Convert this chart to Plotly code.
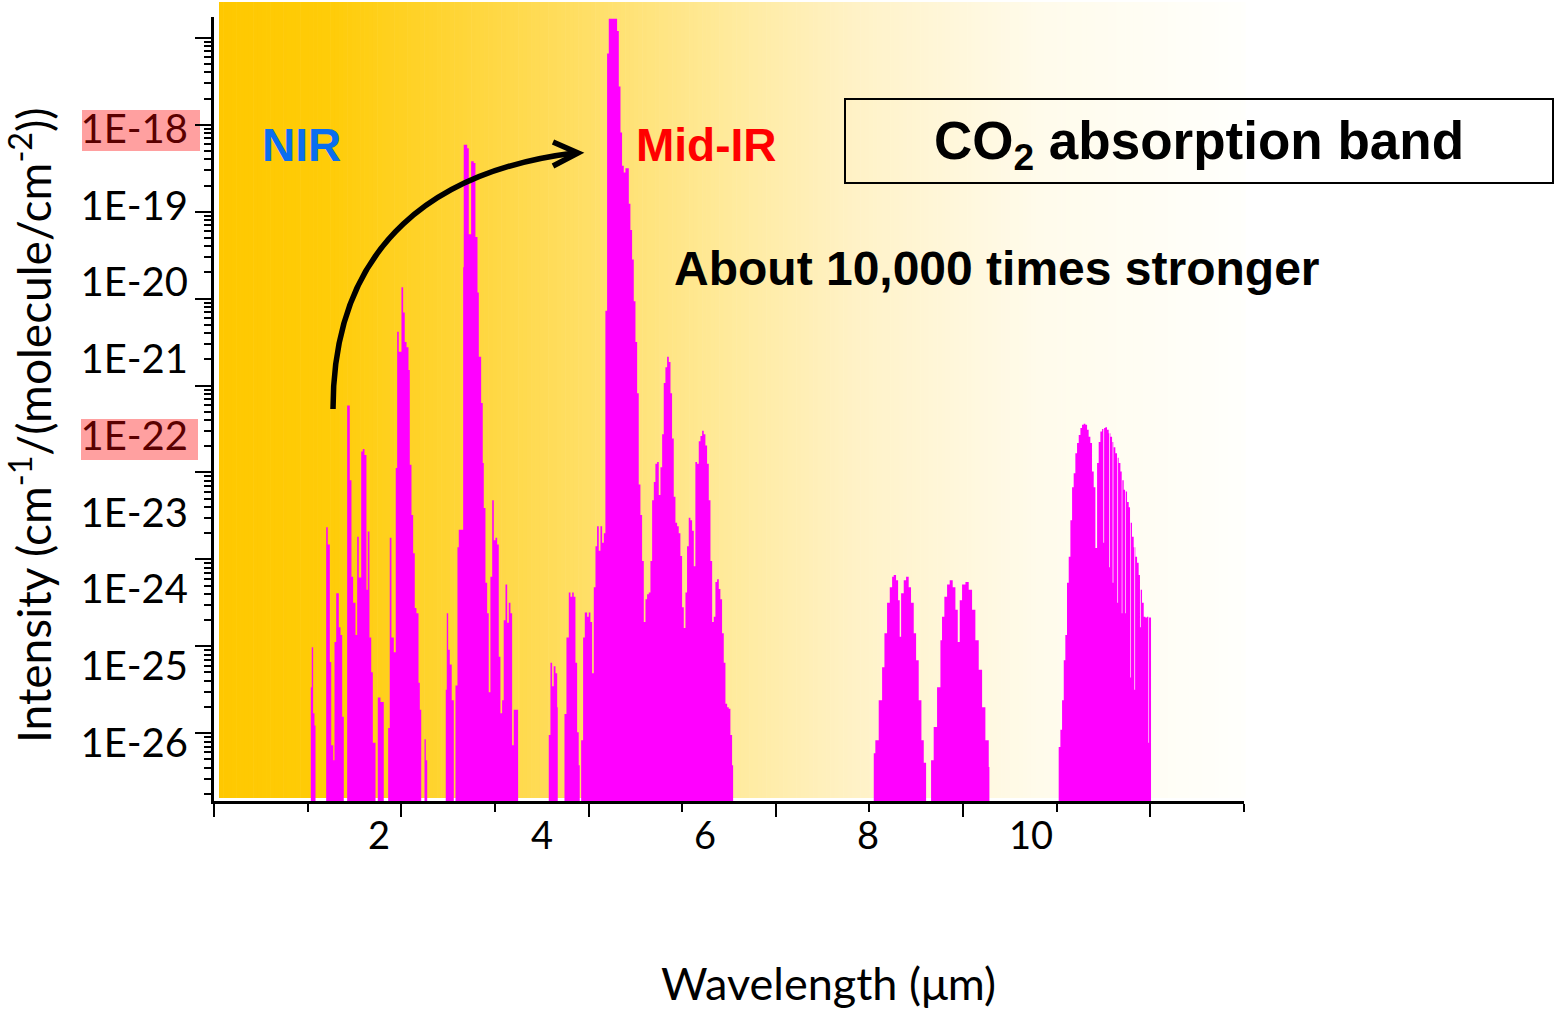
import plotly.graph_objects as go

# ---------------------------------------------------------------------------
# CO2 absorption spectrum, stored band by band as bin edges (wavelength, um)
# and the log10 of the strongest line intensity inside each bin.
# ---------------------------------------------------------------------------
b103_edges = [1.034, 1.044, 1.059, 1.073, 1.084]
b103_log = [-24.47, -24.01, -24.77, -24.91]

b120_edges = [1.198, 1.215, 1.237, 1.252, 1.273, 1.287, 1.305, 1.333, 1.351, 1.369, 1.386]
b120_log = [-22.63, -22.83, -24.18, -25.14, -25.31, -23.95, -23.39, -23.78, -23.87, -24.81]

b150_edges = [1.422, 1.450, 1.468, 1.486, 1.511, 1.529, 1.546, 1.572, 1.589, 1.607,
              1.628, 1.642, 1.660, 1.679, 1.696, 1.725]
b150_log = [-21.23, -22.09, -23.20, -23.50, -23.87, -22.74, -23.21, -21.76, -21.73,
            -21.80, -23.35, -22.68, -23.90, -24.30, -25.11]

b178_edges = [1.749, 1.778, 1.813]
b178_log = [-24.59, -24.64]

b200_edges = [1.860, 1.877, 1.895, 1.920, 1.941, 1.956, 1.973, 2.002, 2.020, 2.037,
              2.056, 2.077, 2.091, 2.109, 2.127, 2.144, 2.162, 2.184, 2.198, 2.213]
b200_log = [-24.94, -22.75, -23.90, -24.07, -21.95, -20.38, -20.61, -19.87, -20.16,
            -20.50, -20.56, -20.82, -21.91, -22.49, -22.93, -23.56, -23.62, -24.42, -24.73]

b226_edges = [2.248, 2.262, 2.277]
b226_log = [-25.07, -25.31]

b250_edges = [2.475, 2.486, 2.501, 2.518, 2.539, 2.561]
b250_log = [-24.50, -23.62, -24.04, -24.21, -24.62]

b270_edges = [2.579, 2.600, 2.614, 2.661, 2.667, 2.704, 2.721, 2.746, 2.774, 2.792,
              2.814, 2.828, 2.853, 2.870, 2.881, 2.899, 2.917, 2.934, 2.952, 2.971,
              2.988, 3.006, 3.024, 3.041, 3.059, 3.077, 3.094, 3.113, 3.131, 3.148,
              3.166, 3.184, 3.201, 3.248]
b270_log = [-24.45, -22.86, -22.66, -19.64, -18.23, -18.27, -19.26, -18.42, -18.44,
            -19.29, -19.93, -20.67, -21.20, -21.89, -22.41, -23.27, -23.62, -24.53,
            -23.20, -22.32, -22.78, -22.75, -22.83, -24.12, -24.77, -24.62, -23.70,
            -23.29, -23.73, -23.50, -23.62, -25.14, -24.73]

b362_edges = [3.575, 3.593, 3.611, 3.628, 3.647, 3.665, 3.671]
b362_log = [-25.02, -24.19, -24.46, -24.23, -24.31, -24.70]

b382_edges = [3.743, 3.764, 3.789, 3.807, 3.825, 3.842, 3.860, 3.878, 3.895, 3.906]
b382_log = [-24.78, -23.90, -23.38, -23.43, -23.38, -23.43, -24.19, -24.99, -25.37]

b430_edges = [3.921, 3.942, 3.960, 3.985, 4.002, 4.020, 4.038, 4.056, 4.074, 4.091,
              4.109, 4.127, 4.145, 4.163, 4.180, 4.198, 4.216, 4.305, 4.323, 4.341,
              4.358, 4.376, 4.394, 4.412, 4.430, 4.447, 4.465, 4.483, 4.501, 4.519,
              4.536, 4.554, 4.572, 4.590, 4.608, 4.625, 4.643, 4.661, 4.679, 4.697,
              4.714, 4.732, 4.750, 4.768, 4.786, 4.803, 4.821, 4.839, 4.857, 4.875,
              4.892, 4.910, 4.928, 4.946, 4.963, 4.981, 4.999, 5.017, 5.035, 5.052,
              5.070, 5.088, 5.106, 5.124, 5.141, 5.159, 5.177, 5.195, 5.213, 5.230,
              5.248, 5.266, 5.284, 5.302, 5.320, 5.337, 5.355, 5.373, 5.391, 5.408,
              5.426, 5.444, 5.462, 5.480, 5.497, 5.515, 5.533, 5.544]
b430_log = [-25.08, -23.90, -23.61, -23.66, -23.61, -23.72, -24.31, -23.32, -22.85, -22.62,
            -22.90, -22.62, -22.81, -22.70, -20.14, -17.18, -16.78, -16.92, -17.56, -18.09,
            -18.47, -18.55, -18.50, -18.50, -18.91, -19.21, -19.55, -20.03, -20.50, -21.09,
            -22.14, -22.49, -23.02, -23.72, -23.46, -23.40, -23.38, -23.02, -22.32, -22.11,
            -21.90, -21.88, -22.26, -21.94, -21.56, -20.97, -20.79, -20.67, -20.73, -21.09,
            -21.61, -22.28, -22.58, -22.62, -22.70, -22.96, -23.55, -23.79, -23.38, -22.85,
            -22.52, -22.55, -22.67, -23.08, -21.88, -21.90, -21.64, -21.58, -21.52, -21.56,
            -21.69, -21.90, -22.32, -23.02, -23.72, -23.66, -23.26, -23.23, -23.34, -23.46,
            -23.85, -24.19, -24.66, -24.70, -24.72, -25.02, -25.37]

b730_edges = [7.046, 7.063, 7.099, 7.135, 7.160, 7.188, 7.217, 7.242, 7.259, 7.284,
              7.306, 7.323, 7.338, 7.366, 7.391, 7.419, 7.444, 7.473, 7.498, 7.526,
              7.555, 7.580, 7.605]
b730_log = [-25.23, -25.08, -24.62, -24.24, -23.85, -23.50, -23.32, -23.20, -23.18, -23.24,
            -23.47, -23.89, -23.39, -23.24, -23.20, -23.32, -23.50, -23.85, -24.16, -24.62,
            -25.08, -25.34]

b795_edges = [7.658, 7.686, 7.722, 7.758, 7.775, 7.800, 7.829, 7.857, 7.889, 7.918,
              7.943, 7.964, 7.989, 8.025, 8.060, 8.096, 8.131, 8.167, 8.203, 8.238,
              8.274, 8.281]
b795_log = [-25.31, -24.93, -24.47, -23.93, -23.66, -23.43, -23.29, -23.24, -23.32, -23.58,
            -23.95, -23.47, -23.29, -23.26, -23.35, -23.58, -23.93, -24.27, -24.70, -25.08,
            -25.39]

b950_edges = [9.021, 9.039, 9.057, 9.075, 9.092, 9.110, 9.128, 9.146, 9.164, 9.181,
              9.199, 9.217, 9.235, 9.253, 9.270, 9.288, 9.306, 9.324, 9.341, 9.359,
              9.377, 9.395, 9.413, 9.431, 9.448, 9.466, 9.484, 9.498, 9.506, 9.519,
              9.537, 9.555, 9.558, 9.566, 9.573, 9.591, 9.597, 9.605, 9.608, 9.626,
              9.644, 9.647, 9.655, 9.662, 9.680, 9.694, 9.701, 9.715, 9.730, 9.737,
              9.751, 9.769, 9.783, 9.790, 9.804, 9.822, 9.829, 9.837, 9.840, 9.858,
              9.875, 9.889, 9.897, 9.911, 9.929, 9.947, 9.964, 9.979, 9.986, 10.007]
b950_log = [-25.16, -24.96, -24.62, -24.16, -23.87, -23.27, -22.97, -22.55, -22.17, -22.01,
            -21.78, -21.66, -21.57, -21.49, -21.45, -21.44, -21.45, -21.51, -21.59, -21.66,
            -21.99, -22.17, -22.87, -21.89, -21.65, -21.53, -21.50, -22.81, -21.49, -21.48,
            -21.51, -21.55, -23.09, -21.55, -21.59, -21.65, -23.27, -21.65, -21.71, -21.78,
            -21.83, -23.50, -21.83, -21.89, -21.99, -23.62, -22.09, -22.20, -23.62, -22.22,
            -22.34, -22.40, -24.36, -22.58, -22.74, -22.86, -24.50, -22.86, -22.97, -23.04,
            -23.18, -23.78, -23.35, -23.50, -23.66, -23.67, -23.66, -25.11, -23.67]

bands = [
    (b103_edges, b103_log), (b120_edges, b120_log), (b150_edges, b150_log),
    (b178_edges, b178_log), (b200_edges, b200_log), (b226_edges, b226_log),
    (b250_edges, b250_log), (b270_edges, b270_log), (b362_edges, b362_log),
    (b382_edges, b382_log), (b430_edges, b430_log), (b730_edges, b730_log),
    (b795_edges, b795_log), (b950_edges, b950_log),
]

# axis ticks (the plotted scale) and the printed tick labels (their own scale)
x_major = [0, 2, 4, 6, 8, 10]
x_minor = [1, 3, 5, 7, 9, 11]
x_label_vals = [2, 4, 6, 8, 10]
x_label_text = ["2", "4", "6", "8", "10"]
y_major_exp = [-25, -24, -23, -22, -21, -20, -19, -18, -17]
y_label_exp = [-18, -19, -20, -21, -22, -23, -24, -25, -26]
y_highlight = [-18, -22]

# ---------------------------------------------------------------------------
W, H = 1555, 1010
L, R, T, B = 214, 1244, 17, 801          # plot area in pixels


def fx(p):
    return (p - L) / (R - L)


def fy(p):
    return (B - p) / (B - T)


fig = go.Figure()

for edges, logs in bands:
    xs, ys = [], []
    for i, v in enumerate(logs):
        xs.append(edges[i])
        ys.append(10 ** v)
    xs.append(edges[-1])
    ys.append(10 ** logs[-1])
    fig.add_trace(go.Scatter(
        x=xs, y=ys, mode="lines", line=dict(shape="hv", width=0, color="#FF00FF"),
        fill="tozeroy", fillcolor="#FF00FF", showlegend=False, hoverinfo="skip",
    ))

# carrier trace for the label axes
fig.add_trace(go.Scatter(x=[None], y=[None], xaxis="x2", yaxis="y2",
                         showlegend=False, hoverinfo="skip"))

shapes = []

# warm background fading from amber to white across the plot
bg_stops = [(219, (255, 200, 0)), (330, (255, 204, 8)), (540, (255, 219, 85)),
            (740, (255, 235, 160)), (860, (255, 242, 200)), (1040, (255, 251, 235)),
            (1245, (255, 255, 252))]
n_slices = 240
x0p, x1p = bg_stops[0][0], bg_stops[-1][0]
for k in range(n_slices):
    a = x0p + (x1p - x0p) * k / n_slices
    b = x0p + (x1p - x0p) * (k + 1) / n_slices
    m = (a + b) / 2
    for j in range(len(bg_stops) - 1):
        if bg_stops[j][0] <= m <= bg_stops[j + 1][0]:
            p0, c0 = bg_stops[j]
            p1, c1 = bg_stops[j + 1]
            t = (m - p0) / (p1 - p0)
            col = tuple(round(c0[i] + (c1[i] - c0[i]) * t) for i in range(3))
            break
    shapes.append(dict(type="rect", xref="paper", yref="paper", layer="below",
                       x0=fx(a), x1=fx(b + 0.6), y0=fy(798), y1=fy(2),
                       line=dict(width=0), fillcolor="rgb(%d,%d,%d)" % col))

# highlight behind two of the exponent labels
for (x_a, x_b, y_a, y_b) in [(82, 200, 110, 151), (81, 198, 419, 460)]:
    shapes.append(dict(type="rect", xref="paper", yref="paper", layer="below",
                       x0=fx(x_a), x1=fx(x_b), y0=fy(y_b), y1=fy(y_a),
                       line=dict(width=0), fillcolor="#FFA0A0"))

# curved arrow from the NIR region to the mid-IR band
arc = "M %f,%f C %f,%f %f,%f %f,%f" % (fx(333), fy(409), fx(333), fy(240),
                                       fx(440), fy(170), fx(574), fy(153))
shapes.append(dict(type="path", xref="paper", yref="paper", path=arc,
                   line=dict(color="black", width=5.5)))
head = "M %f,%f L %f,%f L %f,%f" % (fx(553), fy(142), fx(578), fy(153), fx(553), fy(166))
shapes.append(dict(type="path", xref="paper", yref="paper", path=head,
                   line=dict(color="black", width=5.5)))

# framed caption
shapes.append(dict(type="rect", xref="paper", yref="paper",
                   x0=fx(845), x1=fx(1553), y0=fy(183), y1=fy(99),
                   line=dict(color="black", width=2), fillcolor="rgba(0,0,0,0)"))


def label(xp, yp, text, family, size, color, angle=0):
    return dict(x=fx(xp), y=fy(yp), xref="paper", yref="paper", showarrow=False,
                xanchor="center", yanchor="middle", textangle=angle, text=text,
                font=dict(family=family, size=size, color=color))


bold = "Liberation Sans"
ann = [
    label(301, 145, "<b>NIR</b>", bold, 46, "#0A6EF0"),
    label(706, 145, "<b>Mid-IR</b>", bold, 46, "#FF0000"),
    label(997, 268, "<b>About 10,000 times stronger</b>", bold, 48, "black"),
    label(1199, 144, "<b>CO<sub>2</sub> absorption band</b>", bold, 53, "black"),
    label(828, 983, "Wavelength (\u03bcm)", "Lato", 45, "black"),
    label(30, 425, "Intensity (cm<sup>-1</sup>/(molecule/cm<sup>-2</sup>))",
          "Lato", 46, "black", angle=-90),
]

y_minor = [k * 10.0 ** e for e in range(-26, -16) for k in range(2, 10)]
y_text = []
for e in y_label_exp:
    s = "1E%d" % e
    if e in y_highlight:
        s = '<span style="color:#5A0000">%s</span>' % s
    y_text.append(s)

fig.update_layout(
    width=W, height=H, autosize=False,
    margin=dict(l=L, r=W - R, t=T, b=H - B, pad=0),
    paper_bgcolor="white", plot_bgcolor="rgba(0,0,0,0)",
    shapes=shapes, annotations=ann, showlegend=False,
    xaxis=dict(range=[0, 11], showgrid=False, zeroline=False, showline=True,
               linecolor="black", linewidth=2.5, tickvals=x_major, ticks="outside",
               ticklen=13, tickwidth=2, tickcolor="black", showticklabels=False,
               minor=dict(tickvals=x_minor, ticks="outside", ticklen=8, tickwidth=2,
                          tickcolor="black")),
    yaxis=dict(type="log", range=[-25.78, -16.76], showgrid=False, zeroline=False,
               showline=True, linecolor="black", linewidth=2.5,
               tickvals=[10.0 ** e for e in y_major_exp], ticks="outside", ticklen=16,
               tickwidth=2, tickcolor="black", showticklabels=False,
               minor=dict(tickvals=y_minor, ticks="outside", ticklen=7, tickwidth=2,
                          tickcolor="black")),
    xaxis2=dict(overlaying="x", anchor="y2", side="bottom", range=[-0.0245, 12.613],
                showgrid=False, zeroline=False, showline=False, tickvals=x_label_vals,
                ticktext=x_label_text, ticks="outside", ticklen=1,
                tickcolor="rgba(0,0,0,0)", tickfont=dict(family="Lato", size=38, color="black")),
    yaxis2=dict(overlaying="y", anchor="x2", side="left", type="log",
                range=[-26.756, -16.541], showgrid=False, zeroline=False, showline=False,
                tickvals=[10.0 ** e for e in y_label_exp], ticktext=y_text,
                ticks="outside", ticklen=17, tickcolor="rgba(0,0,0,0)",
                tickfont=dict(family="Lato", size=40, color="black")),
)

fig.write_html("out.html")
